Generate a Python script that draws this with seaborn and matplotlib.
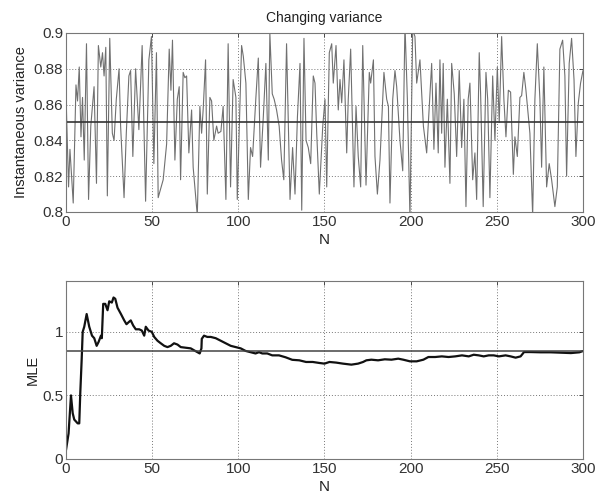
import matplotlib
matplotlib.use("Agg")
import matplotlib.pyplot as plt
import seaborn as sns
import pandas as pd
import numpy as np

# ---- data ----
var_x = [0, 1.5, 2.3, 4.2, 5.8, 6.7, 7.7, 8.7, 9.6, 10.6, 11.9, 13.1, 14.4, 16.3, 17.7, 18.8,
         20.2, 21.2, 22.1, 23.1, 24.0, 25.4, 26.9, 27.9, 29.2, 30.8, 31.7, 33.7, 35.0, 36.5,
         37.5, 38.8, 40.4, 42.3, 44.2, 46.2, 48.1, 49.6, 51.0, 52.5, 53.5,
         56.4, 58.4, 59.9, 60.9, 61.8, 63.2, 64.6, 65.7, 66.5, 68.0, 69.0, 70.0, 71.3, 72.9,
         73.8, 76.2, 77.7, 78.7, 79.6, 81.0, 82.0, 83.5, 84.5, 85.8, 87.4, 88.3, 89.9, 91.2,
         92.8, 94.1, 95.5, 97.0, 98.6, 99.4, 101.9, 102.9, 104.4, 105.8, 107.1, 108.3, 110.2,
         111.6, 112.9, 114.5, 116.0, 117.4, 118.3, 119.7, 120.8, 122.2, 123.7, 125.1, 126.4,
         128.0,
         130.0, 131.5, 132.9, 134.3, 135.8, 136.8, 138.1, 139.3, 140.6, 142.0, 143.5, 144.5,
         145.5, 147.0, 149.0, 150.3, 151.3, 152.8, 154.2, 155.1, 156.7, 158.0, 159.0, 160.0,
         161.3, 162.9, 163.8, 165.2, 167.1, 168.3, 169.6, 171.0, 172.2, 174.1, 176.0, 176.8,
         178.4, 179.3, 180.7, 182.2, 184.5, 186.1, 187.1, 188.0, 189.6, 190.9, 191.9, 193.8,
         195.4, 196.7, 198.1, 199.6, 201.2, 202.5, 203.5, 205.4, 207.4, 209.3,
         212.2, 213.5, 214.7, 216.0, 217.0, 218.0, 218.9, 219.9, 221.3, 222.8, 223.8,
         225.3, 226.7, 228.2, 229.6, 230.9, 232.1, 233.4, 234.4, 236.0, 237.3, 238.3, 239.8,
         240.6, 242.1, 243.7, 244.7, 246.0, 247.6, 248.9, 250.3, 251.4, 252.8, 254.1, 255.3,
         256.7, 258.0, 259.6, 260.5, 261.9, 263.4, 264.4, 265.7, 266.9, 268.3, 269.2, 270.8,
         272.1, 273.5, 275.0, 276.0, 277.3, 278.9, 280.4, 281.8, 283.7, 285.1, 286.6, 288.2,
         289.5, 290.5, 292.0, 293.4, 294.8, 295.9, 297.3, 298.6, 300.0]
var_y = [0.866, 0.814, 0.835, 0.805, 0.871, 0.862, 0.881, 0.842, 0.864, 0.829, 0.894, 0.807,
         0.848, 0.870, 0.816, 0.893, 0.881, 0.889, 0.876, 0.892, 0.809, 0.897, 0.844, 0.840,
         0.863, 0.880, 0.848, 0.808, 0.844, 0.876, 0.879, 0.831, 0.880, 0.846, 0.893, 0.806,
         0.885, 0.898, 0.827, 0.889, 0.808,
         0.818, 0.838, 0.891, 0.868, 0.896, 0.829, 0.863, 0.870, 0.818, 0.878, 0.875, 0.876,
         0.833, 0.857, 0.825, 0.798, 0.859, 0.844, 0.857, 0.885, 0.810, 0.864, 0.862, 0.840,
         0.848, 0.844, 0.845, 0.859, 0.807, 0.894, 0.814, 0.874, 0.864, 0.807, 0.893, 0.887,
         0.872, 0.807, 0.836, 0.831, 0.864, 0.886, 0.825, 0.853, 0.883, 0.829, 0.900, 0.866,
         0.863, 0.857, 0.848, 0.829, 0.818, 0.894,
         0.807, 0.836, 0.810, 0.853, 0.883, 0.801, 0.897, 0.840, 0.836, 0.827, 0.876, 0.872,
         0.844, 0.810, 0.848, 0.863, 0.814, 0.889, 0.894, 0.872, 0.893, 0.857, 0.874, 0.861,
         0.885, 0.833, 0.863, 0.891, 0.814, 0.859, 0.831, 0.814, 0.893, 0.815, 0.878, 0.872,
         0.885, 0.831, 0.810, 0.829, 0.878, 0.863, 0.859, 0.805, 0.863, 0.879, 0.870, 0.840,
         0.823, 0.905, 0.863, 0.797, 0.902, 0.898, 0.872, 0.885, 0.848, 0.833,
         0.883, 0.835, 0.872, 0.833, 0.885, 0.844, 0.883, 0.825, 0.863, 0.816, 0.883, 0.866,
         0.831, 0.879, 0.836, 0.863, 0.803, 0.863, 0.872, 0.818, 0.833, 0.807, 0.889, 0.866,
         0.803, 0.878, 0.863, 0.808, 0.876, 0.840, 0.881, 0.850, 0.898, 0.863, 0.842, 0.868,
         0.867, 0.821, 0.842, 0.831, 0.864, 0.865, 0.878, 0.868, 0.853, 0.844, 0.798, 0.863,
         0.894, 0.863, 0.825, 0.881, 0.814, 0.827, 0.818, 0.803, 0.814, 0.891, 0.896, 0.876,
         0.820, 0.883, 0.897, 0.874, 0.831, 0.861, 0.872, 0.879]

mle_x = [0, 1.5, 2.9, 3.9, 4.8, 6.8, 7.7, 8.3, 9.1, 9.7, 10.6, 12.0, 13.5, 15.1, 16.4, 17.8,
         18.9, 20.3, 20.8, 21.6, 22.8, 24.1, 25.1, 26.6, 27.6, 28.6, 29.9, 31.9, 33.8, 35.1,
         36.7, 37.6, 39.0, 40.5, 42.5, 44.0, 45.4, 46.3, 47.9, 49.8, 51.2, 53.1, 55.0, 57.0,
         58.9, 60.8, 62.7, 64.7, 66.6, 69.5, 72.4, 74.3, 76.3, 77.6, 78.6, 78.8, 80.1, 82.0,
         84.0, 86.9, 89.8, 92.7, 95.6, 98.5, 101.4, 104.2, 107.1, 110.0, 112.0, 113.9, 116.8,
         119.7, 123.6, 127.4, 131.3, 135.4, 139.3, 143.2, 147.1, 150.0, 152.9, 156.8, 160.7,
         165.6, 169.5, 172.4, 174.3, 177.2, 181.1, 185.0, 188.9, 192.8, 195.7, 199.6, 203.5,
         207.4, 210.3, 214.2, 218.1, 222.0, 225.9, 229.8, 233.7, 236.6, 239.5, 242.4, 245.3,
         248.2, 251.2, 255.1, 258.0, 260.9, 263.8, 265.8, 269.6, 275.5, 281.3, 287.2, 293.0,
         297.9, 300.0]
mle_y = [0.07, 0.20, 0.50, 0.36, 0.31, 0.28, 0.28, 0.52, 0.78, 1.00, 1.04, 1.14, 1.04, 0.97,
         0.95, 0.89, 0.92, 0.97, 0.95, 1.22, 1.22, 1.17, 1.24, 1.23, 1.27, 1.26, 1.19, 1.14,
         1.09, 1.06, 1.08, 1.09, 1.05, 1.02, 1.02, 1.01, 0.97, 1.04, 1.01, 1.00, 0.96, 0.93,
         0.91, 0.89, 0.88, 0.89, 0.91, 0.90, 0.88, 0.875, 0.87, 0.855, 0.84, 0.83, 0.87, 0.945,
         0.97, 0.96, 0.96, 0.95, 0.93, 0.91, 0.89, 0.88, 0.87, 0.85, 0.84, 0.83, 0.84, 0.83,
         0.83, 0.815, 0.815, 0.80, 0.78, 0.776, 0.763, 0.763, 0.755, 0.75, 0.763, 0.758, 0.75,
         0.742, 0.75, 0.763, 0.776, 0.781, 0.776, 0.784, 0.781, 0.789, 0.781, 0.768, 0.768,
         0.781, 0.802, 0.802, 0.807, 0.802, 0.807, 0.815, 0.807, 0.820, 0.815, 0.807, 0.815,
         0.815, 0.807, 0.815, 0.807, 0.797, 0.807, 0.841, 0.841, 0.839, 0.839, 0.836, 0.833,
         0.839, 0.849]

true_var = 0.85
top_yticks = [0.8, 0.82, 0.84, 0.86, 0.88, 0.9]
top_yticklabels = ["0.8", "0.82", "0.84", "0.86", "0.88", "0.9"]
bot_yticks = [0, 0.5, 1]
bot_yticklabels = ["0", "0.5", "1"]
xticks = [0, 50, 100, 150, 200, 250, 300]

# ---- styling ----
sns.set_style("white")
plt.rcParams['font.family'] = ['Liberation Sans', 'DejaVu Sans']
plt.rcParams['xtick.direction'] = 'in'
plt.rcParams['ytick.direction'] = 'in'

fig = plt.figure(figsize=(6.02, 4.94), dpi=100)
ax1 = fig.add_axes([0.1096, 0.5709, 0.8588, 0.3623])
ax2 = fig.add_axes([0.1096, 0.0709, 0.8588, 0.3603])

df_var = pd.DataFrame({"N": var_x, "v": var_y})
df_mle = pd.DataFrame({"N": mle_x, "v": mle_y})

sns.lineplot(data=df_var, x="N", y="v", ax=ax1, color="#707070", lw=0.8, sort=False)
ax1.axhline(true_var, color="#333333", lw=1.2)
sns.lineplot(data=df_mle, x="N", y="v", ax=ax2, color="#111111", lw=1.6, sort=False)
ax2.axhline(true_var, color="#444444", lw=1.1)

for ax in (ax1, ax2):
    ax.set_xlim(0, 300)
    ax.set_xticks(xticks)
    ax.set_xticklabels([str(t) for t in xticks])
    ax.grid(True, linestyle=(0, (1, 2)), color="#777777", lw=0.7)
    for s in ax.spines.values():
        s.set_color("#777777")
        s.set_linewidth(0.8)
    ax.tick_params(labelsize=11, colors="#333333", length=3, width=0.6,
                   top=True, right=True, pad=2)
    ax.set_xlabel("N", fontsize=11, color="#222222", labelpad=3)

ax1.set_ylim(0.8, 0.9)
ax1.set_yticks(top_yticks)
ax1.set_yticklabels(top_yticklabels)
ax1.set_ylabel("Instantaneous variance", fontsize=10.5, color="#222222", labelpad=4)
ax1.set_title("Changing variance", fontsize=10, color="#222222", pad=8)

ax2.set_ylim(0, 1.4)
ax2.set_yticks(bot_yticks)
ax2.set_yticklabels(bot_yticklabels)
ax2.set_ylabel("MLE", fontsize=10.5, color="#222222", labelpad=2)

fig.savefig("out.png", dpi=100, facecolor="white")
